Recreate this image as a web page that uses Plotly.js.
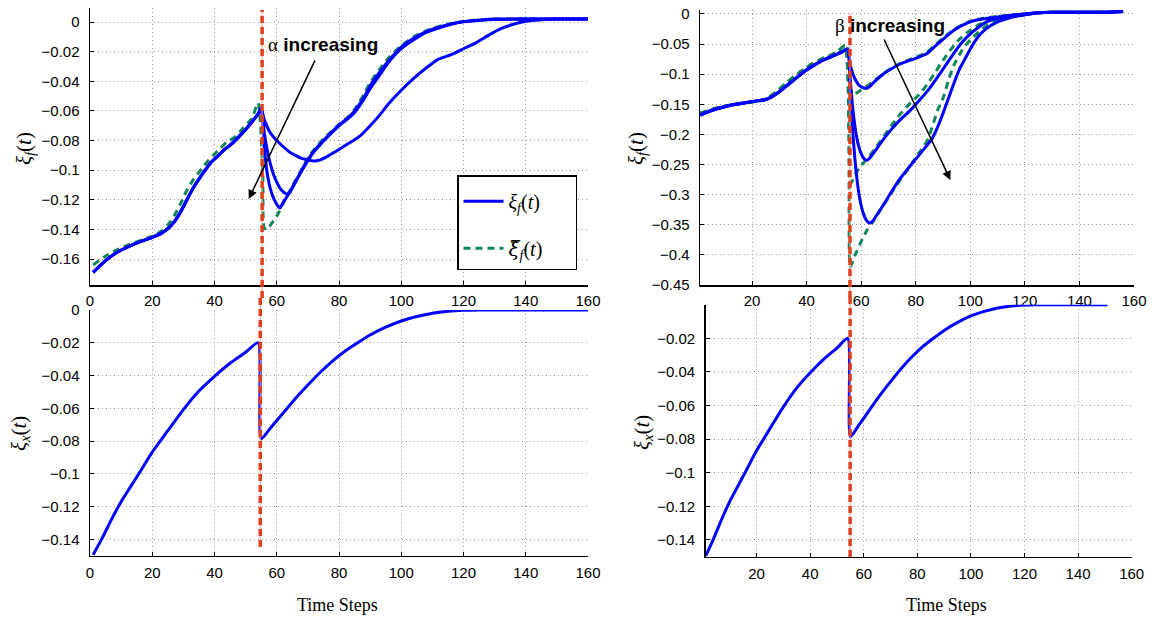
<!DOCTYPE html>
<html><head><meta charset="utf-8">
<script src="https://cdn.plot.ly/plotly-3.0.1.min.js"></script>
<style>html,body{margin:0;padding:0;background:#fff}#chart{width:1152px;height:619px}</style>
</head><body><div id="chart"></div>
<script>
// ---------- DATA ----------
// Top-left panel: xi_f(t) for three alpha values, plus estimate
const tlPreX = [1,5,9,14,20,23,25,27,29,31,33,35,37,39,41,43,45.6,48,50,52,54,55];
const tlPreY = [-0.169,-0.161,-0.155,-0.150,-0.1453,-0.1425,-0.1395,-0.135,-0.1285,-0.1205,-0.1125,-0.106,-0.100,-0.0945,-0.0905,-0.0865,-0.082,-0.077,-0.0725,-0.0675,-0.062,-0.058];
const tlSlowX = [56,57,58,60,62,64,66,68,70,72,74,76,78,80,83,85,87,90,93,96,100,104,108,112,116,120,124,128,132,136,140,145,150,160];
const tlSlowY = [-0.066,-0.071,-0.075,-0.080,-0.084,-0.0875,-0.090,-0.092,-0.093,-0.0938,-0.093,-0.091,-0.0885,-0.086,-0.082,-0.0795,-0.0765,-0.070,-0.063,-0.055,-0.046,-0.038,-0.031,-0.025,-0.022,-0.018,-0.014,-0.009,-0.0045,-0.0015,0.0005,0.0015,0.002,0.002];
const tlMidX = [56,57,58,59,60,61,62,63,64,65,66,68,70,72,75,78,80,83,85,88,90,93,96,100,104,108,112,116,120,125,130,140,160];
const tlMidY = [-0.075,-0.087,-0.096,-0.103,-0.108,-0.112,-0.1145,-0.116,-0.1155,-0.112,-0.108,-0.1005,-0.0935,-0.0875,-0.0805,-0.074,-0.070,-0.065,-0.061,-0.052,-0.045,-0.036,-0.027,-0.018,-0.012,-0.007,-0.004,-0.0015,0.0002,0.0012,0.0018,0.002,0.002];
const tlFastX = [56,57,58,59,60,61,62,64,66,68,70,72,75,78,80,83,85,88,90,93,96,100,104,108,112,116,120,125,130,140,160];
const tlFastY = [-0.085,-0.103,-0.113,-0.119,-0.123,-0.1255,-0.122,-0.1155,-0.108,-0.100,-0.093,-0.087,-0.080,-0.0735,-0.0695,-0.0645,-0.060,-0.051,-0.043,-0.034,-0.026,-0.017,-0.011,-0.0065,-0.0035,-0.0012,0.0003,0.0013,0.002,0.002,0.002];
const tlEstX = [1,5,9,14,20,23,25,27,29,31,33,35.9,38,41,44,46.6,49,52,54,55.5,56,57,58,60,62,64,66,68,70,72,75,78,80,83,85,88,90,93,96,100,104,108,112,116,120,125,130,140,150,160];
const tlEstY = [-0.164,-0.158,-0.1535,-0.149,-0.1445,-0.141,-0.137,-0.131,-0.123,-0.114,-0.107,-0.099,-0.0935,-0.087,-0.081,-0.0775,-0.072,-0.065,-0.0546,-0.10,-0.139,-0.140,-0.137,-0.131,-0.1225,-0.1145,-0.107,-0.0995,-0.092,-0.086,-0.079,-0.073,-0.069,-0.064,-0.059,-0.049,-0.041,-0.032,-0.024,-0.016,-0.010,-0.006,-0.003,-0.001,0.0005,0.0015,0.002,0.002,0.002,0.002];

// Top-right panel: xi_f(t) for three beta values, plus estimates
const trPreX = [1,3,6,10,14,18,22,25,27,30,33,36,39,42,45,48,51,53,55];
const trPreY = [-0.168,-0.164,-0.159,-0.154,-0.150,-0.147,-0.144,-0.142,-0.138,-0.129,-0.118,-0.107,-0.096,-0.087,-0.079,-0.073,-0.067,-0.063,-0.058];
const trEstPreX = [1,5,10,15,20,24,27,30,33,36,39,42,45,48,51,54];
const trEstPreY = [-0.165,-0.159,-0.153,-0.149,-0.146,-0.143,-0.136,-0.125,-0.113,-0.102,-0.092,-0.083,-0.076,-0.070,-0.064,-0.053];
const trTailX = [125,130,140,150,156];
const trTailY = [0.002,0.003,0.003,0.003,0.004];
const trB1X = [56,57,58,59,60,61,62,63,65,68,70,73,76,80,84,87,90,94,97,100,105,110,115,120];
const trB1Y = [-0.085,-0.100,-0.110,-0.117,-0.121,-0.123,-0.1235,-0.121,-0.112,-0.100,-0.094,-0.086,-0.080,-0.0736,-0.066,-0.054,-0.042,-0.027,-0.019,-0.013,-0.008,-0.005,-0.002,0.0];
const trE1X = [55.5,56,57,58,59,60,62,64,67,70,73,76,80,84,87,90,94,97,100,105,110,115,120];
const trE1Y = [-0.09,-0.125,-0.134,-0.132,-0.129,-0.126,-0.120,-0.114,-0.103,-0.093,-0.085,-0.079,-0.072,-0.064,-0.052,-0.040,-0.026,-0.018,-0.012,-0.007,-0.004,-0.002,0.0];
const trB2X = [56,57,58,59,60,61,62,63,65,68,71,74,78,82,85,88,91,94,97,100,103,106,110,115,120];
const trB2Y = [-0.110,-0.160,-0.195,-0.218,-0.232,-0.240,-0.243,-0.240,-0.228,-0.209,-0.192,-0.177,-0.160,-0.140,-0.124,-0.105,-0.085,-0.065,-0.047,-0.033,-0.022,-0.013,-0.007,-0.003,0.0];
const trE2X = [55.5,56,57,58,60,62,63,65,68,71,74,78,81,84,87,90,93,96,100,103,106,110,115,120];
const trE2Y = [-0.15,-0.282,-0.275,-0.265,-0.252,-0.241,-0.236,-0.224,-0.205,-0.186,-0.168,-0.148,-0.135,-0.118,-0.098,-0.077,-0.058,-0.042,-0.027,-0.018,-0.011,-0.006,-0.002,0.0];
const trB3X = [56,57,58,59,60,61,62,63,64,66,68,71,74,78,82,86,88,90,92,94,96,98,100,103,106,110,114,118,122];
const trB3Y = [-0.13,-0.20,-0.255,-0.293,-0.318,-0.334,-0.343,-0.347,-0.345,-0.332,-0.318,-0.296,-0.275,-0.252,-0.230,-0.207,-0.188,-0.165,-0.140,-0.115,-0.092,-0.075,-0.058,-0.037,-0.024,-0.013,-0.007,-0.003,0.0];
const trE3X = [55.5,56,57,58,60,62,64,66,69,72,75,78,81,84,86,88,90,92,94,97,100,103,106,110,115,120];
const trE3Y = [-0.2,-0.42,-0.41,-0.398,-0.378,-0.360,-0.347,-0.333,-0.312,-0.291,-0.271,-0.252,-0.232,-0.212,-0.188,-0.160,-0.140,-0.110,-0.085,-0.060,-0.043,-0.030,-0.019,-0.010,-0.004,-0.001];

// Bottom panels: xi_x(t)
const blX = [1,4,7,10,13,16,20,25,30,35,40,45,50,54,55,58,62,66,70,74,78,82,86,90,95,100,105,110,115,120,125,140,160];
const blY = [-0.1495,-0.139,-0.1275,-0.117,-0.108,-0.099,-0.0868,-0.0737,-0.0608,-0.0495,-0.0405,-0.0325,-0.0258,-0.020,-0.0787,-0.072,-0.063,-0.054,-0.0458,-0.038,-0.031,-0.025,-0.020,-0.0153,-0.0105,-0.0067,-0.0040,-0.002,-0.0008,-0.0002,0,0,0];
const brX = [1,4,7,10,13,16,20,25,30,35,40,45,50,54,55,58,62,66,70,74,78,82,86,90,95,100,105,110,115,120,125,140,151];
const brY = [-0.1495,-0.139,-0.1275,-0.117,-0.108,-0.099,-0.0868,-0.0737,-0.0608,-0.0495,-0.0405,-0.0325,-0.0258,-0.020,-0.0787,-0.072,-0.063,-0.054,-0.0458,-0.038,-0.031,-0.025,-0.020,-0.0153,-0.0105,-0.0067,-0.0040,-0.002,-0.0008,-0.0002,0,0,0];

// Event (change) time marked by the vertical line in each panel
const eventX = {tl: 55.3, tr: 55.9, bl: 54.7, br: 54.9};

// Tick labels
const xTicksLeft = [0,20,40,60,80,100,120,140,160];
const xTicksRight = [20,40,60,80,100,120,140,160];
const yTicksTL = [0,-0.02,-0.04,-0.06,-0.08,-0.1,-0.12,-0.14,-0.16];
const yTextTL = ['0','\u22120.02','\u22120.04','\u22120.06','\u22120.08','\u22120.1','\u22120.12','\u22120.14','\u22120.16'];
const yTicksTR = [0,-0.05,-0.1,-0.15,-0.2,-0.25,-0.3,-0.35,-0.4,-0.45];
const yTextTR = ['0','\u22120.05','\u22120.1','\u22120.15','\u22120.2','\u22120.25','\u22120.3','\u22120.35','\u22120.4','\u22120.45'];
const yTicksBL = [0,-0.02,-0.04,-0.06,-0.08,-0.1,-0.12,-0.14];
const yTextBL = ['0','\u22120.02','\u22120.04','\u22120.06','\u22120.08','\u22120.1','\u22120.12','\u22120.14'];
const yTicksBR = [-0.02,-0.04,-0.06,-0.08,-0.1,-0.12,-0.14];
const yTextBR = ['\u22120.02','\u22120.04','\u22120.06','\u22120.08','\u22120.1','\u22120.12','\u22120.14'];

// ---------- STYLE ----------
const W = 1152, H = 619;
const px = v => v / W;
const py = v => 1 - v / H;
const BLUE = '#0000ff', GREEN = '#12875a', RED = '#e2401c';
const SANS = 'Liberation Sans, Arial, Helvetica, sans-serif';
const SERIF = 'Liberation Serif, Times New Roman, serif';

function blueLine(x, y, xa, ya, extra) {
  return Object.assign({x, y, xaxis: xa, yaxis: ya, type: 'scatter', mode: 'lines',
    line: {color: BLUE, width: 3, shape: 'spline', smoothing: 0.6}, showlegend: false, hoverinfo: 'skip'}, extra || {});
}
function greenLine(x, y, xa, ya, extra) {
  return Object.assign({x, y, xaxis: xa, yaxis: ya, type: 'scatter', mode: 'lines',
    line: {color: GREEN, width: 3, dash: '7px,5px', shape: 'spline', smoothing: 0.6}, showlegend: false, hoverinfo: 'skip'}, extra || {});
}

const cat = (a, b) => a.concat(b);
const legXi = '<i>\u03be<sub>f</sub></i>(<i>t</i>)&nbsp;&nbsp;&nbsp;&nbsp;&nbsp;&nbsp;';
const legXiT = '<i><span style="font-family:DejaVu Serif">\u03be\u0303</span><sub>f</sub></i>(<i>t</i>)&nbsp;&nbsp;&nbsp;&nbsp;&nbsp;';

const data = [
  // top-left
  greenLine(tlEstX, tlEstY, 'x', 'y', {showlegend: true, name: legXiT, legendgroup: 'g2', legendrank: 2}),
  blueLine(cat(tlPreX, tlSlowX), cat(tlPreY, tlSlowY), 'x', 'y', {showlegend: true, name: legXi, legendgroup: 'g1', legendrank: 1}),
  blueLine(cat(tlPreX, tlMidX), cat(tlPreY, tlMidY), 'x', 'y'),
  blueLine(cat(tlPreX, tlFastX), cat(tlPreY, tlFastY), 'x', 'y'),
  // top-right
  greenLine(cat(trEstPreX, cat(trE1X, trTailX)), cat(trEstPreY, cat(trE1Y, trTailY)), 'x2', 'y2'),
  greenLine(cat(trEstPreX, cat(trE2X, trTailX)), cat(trEstPreY, cat(trE2Y, trTailY)), 'x2', 'y2'),
  greenLine(cat(trEstPreX, cat(trE3X, trTailX)), cat(trEstPreY, cat(trE3Y, trTailY)), 'x2', 'y2'),
  blueLine(cat(trPreX, cat(trB1X, trTailX)), cat(trPreY, cat(trB1Y, trTailY)), 'x2', 'y2'),
  blueLine(cat(trPreX, cat(trB2X, trTailX)), cat(trPreY, cat(trB2Y, trTailY)), 'x2', 'y2'),
  blueLine(cat(trPreX, cat(trB3X, trTailX)), cat(trPreY, cat(trB3Y, trTailY)), 'x2', 'y2'),
  // bottom
  blueLine(blX, blY, 'x3', 'y3'),
  blueLine(brX, brY, 'x4', 'y4')
];

function axis(extra) {
  return Object.assign({
    showline: true, linecolor: '#000', linewidth: 1.5, mirror: false,
    showgrid: true, gridcolor: '#9a9a9a', griddash: '1px,3px', gridwidth: 1,
    zeroline: false, ticks: 'inside', ticklen: 4, tickcolor: '#000', tickwidth: 1,
    tickfont: {family: SANS, size: 15, color: '#000'}, tickmode: 'array', fixedrange: true
  }, extra);
}

function vline(xref, xv, yTop, yBot) {
  return [
    {type: 'line', xref, yref: 'paper', x0: xv, x1: xv, y0: py(yBot), y1: py(yTop),
     line: {color: '#f4a48e', width: 1}},
    {type: 'line', xref, yref: 'paper', x0: xv, x1: xv, y0: py(yBot), y1: py(yTop),
     line: {color: RED, width: 3.5, dash: '7px,4px'}}
  ];
}

const yTitle = '<i>\u03be<sub>f</sub></i>(<i>t</i>)';
const yTitleX = '<i>\u03be<sub>x</sub></i>(<i>t</i>)';

const layout = {
  width: W, height: H, autosize: false,
  margin: {l: 0, r: 0, t: 0, b: 0, pad: 0},
  paper_bgcolor: '#fff', plot_bgcolor: 'rgba(0,0,0,0)',
  showlegend: true,
  legend: {x: px(457), y: py(175), xanchor: 'left', yanchor: 'top',
    bgcolor: '#fff', bordercolor: '#000', borderwidth: 1.5,
    font: {family: SERIF, size: 20, color: '#000'},
    traceorder: 'grouped', tracegroupgap: 18, itemwidth: 40,
    title: {text: ' ', font: {size: 4}}},
  xaxis: axis({domain: [px(90), px(588)], range: [0, 160], anchor: 'y', tickvals: xTicksLeft, ticklabelstandoff: 1}),
  yaxis: axis({domain: [py(285), py(8)], range: [-0.1775, 0.0095], anchor: 'x', tickvals: yTicksTL, ticktext: yTextTL, ticklabelstandoff: 6}),
  xaxis2: axis({domain: [px(700.2), px(1134)], range: [1, 160], anchor: 'y2', tickvals: xTicksRight, ticklabelstandoff: 1}),
  yaxis2: axis({domain: [py(285), py(10)], range: [-0.45, 0.0066], anchor: 'x2', tickvals: yTicksTR, ticktext: yTextTR, ticklabelstandoff: 6}),
  xaxis3: axis({domain: [px(90), px(588)], range: [0, 160], anchor: 'y3', tickvals: xTicksLeft, ticklabelstandoff: 3}),
  yaxis3: axis({domain: [py(555.7), py(310)], range: [-0.15, 0], anchor: 'x3', tickvals: yTicksBL, ticktext: yTextBL, ticklabelstandoff: 6}),
  xaxis4: axis({domain: [px(705.7), px(1131.7)], range: [1, 160], anchor: 'y4', tickvals: xTicksRight, ticklabelstandoff: 3}),
  yaxis4: axis({domain: [py(556.8), py(304.7)], range: [-0.15, 0], anchor: 'x4', tickvals: yTicksBR, ticktext: yTextBR, ticklabelstandoff: 6}),
  shapes: [].concat(
    vline('x', eventX.tl, 10, 298),
    vline('x3', eventX.bl, 298, 547),
    vline('x2', eventX.tr, 13, 298),
    vline('x4', eventX.br, 298, 557)
  ),
  annotations: [
    {xref: 'paper', yref: 'paper', x: px(25), y: py(149), text: yTitle, textangle: -90, showarrow: false,
     xanchor: 'center', yanchor: 'middle', font: {family: SERIF, size: 21, color: '#000'}},
    {xref: 'paper', yref: 'paper', x: px(20), y: py(434), text: yTitleX, textangle: -90, showarrow: false,
     xanchor: 'center', yanchor: 'middle', font: {family: SERIF, size: 21, color: '#000'}},
    {xref: 'paper', yref: 'paper', x: px(637), y: py(149), text: yTitle, textangle: -90, showarrow: false,
     xanchor: 'center', yanchor: 'middle', font: {family: SERIF, size: 21, color: '#000'}},
    {xref: 'paper', yref: 'paper', x: px(643), y: py(433), text: yTitleX, textangle: -90, showarrow: false,
     xanchor: 'center', yanchor: 'middle', font: {family: SERIF, size: 21, color: '#000'}},
    {xref: 'paper', yref: 'paper', x: px(337), y: py(605), text: 'Time Steps', showarrow: false,
     xanchor: 'center', yanchor: 'middle', font: {family: SERIF, size: 18, color: '#000'}},
    {xref: 'paper', yref: 'paper', x: px(946), y: py(605), text: 'Time Steps', showarrow: false,
     xanchor: 'center', yanchor: 'middle', font: {family: SERIF, size: 18, color: '#000'}},
    {xref: 'paper', yref: 'paper', x: px(266), y: py(44), xanchor: 'left', yanchor: 'middle', showarrow: false,
     text: '<span style="font-family:Liberation Serif;font-weight:normal">\u03b1</span> <b>increasing</b>',
     font: {family: SANS, size: 19, color: '#000'}},
    {xref: 'paper', yref: 'paper', x: px(833), y: py(25), xanchor: 'left', yanchor: 'middle', showarrow: false,
     text: '<span style="font-family:Liberation Serif;font-weight:normal">\u03b2</span> <b>increasing</b>',
     font: {family: SANS, size: 19, color: '#000'}},
    {xref: 'x', yref: 'y', x: 51.0, y: -0.1194, ax: 67, ay: -140, axref: 'pixel', ayref: 'pixel',
     text: '', showarrow: true, arrowhead: 2, arrowsize: 1.2, arrowwidth: 1.5, arrowcolor: '#000', standoff: 0},
    {xref: 'x2', yref: 'y2', x: 92.7, y: -0.2757, ax: -67, ay: -142, axref: 'pixel', ayref: 'pixel',
     text: '', showarrow: true, arrowhead: 2, arrowsize: 1.2, arrowwidth: 1.5, arrowcolor: '#000', standoff: 0}
  ]
};

Plotly.newPlot('chart', data, layout, {staticPlot: true, displayModeBar: false});
</script></body></html>
